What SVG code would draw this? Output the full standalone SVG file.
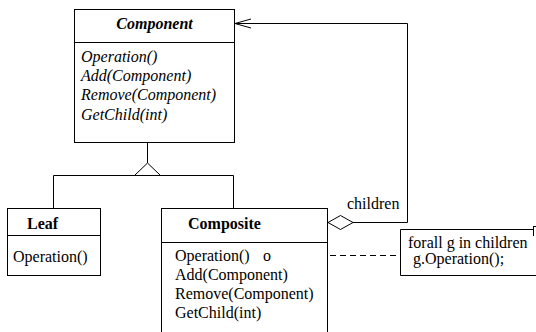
<svg xmlns="http://www.w3.org/2000/svg" width="536" height="332" viewBox="0 0 536 332">
<style>
.box{fill:#fff;stroke:#000;stroke-width:1}
.ln{fill:none;stroke:#000;stroke-width:1}
text{font-family:'Liberation Serif',Tinos,'Times New Roman','DejaVu Serif',serif;font-size:16px;fill:#000}
.ti{font-weight:bold;font-style:italic}
.it{font-style:italic}
.b{font-weight:bold}
</style>
<rect width="536" height="332" fill="#fff"/>
<g id="connectors">
<path class="ln" d="M147.5,142 V163"/>
<path class="ln" d="M134.5,175.5 L147.5,163 L160.5,175.5 Z"/>
<path class="ln" d="M53.5,208 V175.5 H233.5 V208"/>
<path class="ln" d="M353,222.5 H407.5 V23.5 H235"/>
<path class="ln" d="M251,19 L235,23.5 L251,28"/>
<path class="ln" d="M328,222.5 L340.5,215.5 L353,222.5 L340.5,229.5 Z" fill="#fff"/>
<text x="347" y="209">children</text>
<path class="ln" d="M270,255.5 H400" stroke-dasharray="6,4"/>
</g>
<g id="component">
<rect class="box" x="74.5" y="9.5" width="160" height="133"/>
<path class="ln" d="M74.5,42.5 H234.5"/>
<text class="ti" x="154.5" y="29" text-anchor="middle">Component</text>
<text class="it" x="81" y="62">Operation()</text>
<text class="it" x="81" y="81">Add(Component)</text>
<text class="it" x="81" y="100">Remove(Component)</text>
<text class="it" x="81" y="120">GetChild(int)</text>
</g>
<g id="leaf">
<rect class="box" x="7.5" y="208.5" width="93" height="67"/>
<path class="ln" d="M7.5,235.5 H100.5"/>
<text class="b" x="27" y="229">Leaf</text>
<text x="13" y="262">Operation()</text>
</g>
<g id="composite">
<rect class="box" x="161.5" y="208.5" width="166" height="140"/>
<path class="ln" d="M161.5,242.5 H327.5"/>
<text class="b" x="188" y="229">Composite</text>
<text x="175" y="261">Operation()</text>
<text x="263" y="261">o</text>
<text x="175" y="280">Add(Component)</text>
<text x="175" y="299">Remove(Component)</text>
<text x="175" y="318">GetChild(int)</text>
</g>
<g id="note">
<path class="box" d="M400.5,229.5 H533.5 M536,275.5 H400.5 V229.5"/>
<path class="ln" d="M533.5,226 V236 M533.5,226.5 H536"/>
<text x="408" y="248">forall g in children</text>
<text x="413" y="264">g.Operation();</text>
</g>
</svg>
